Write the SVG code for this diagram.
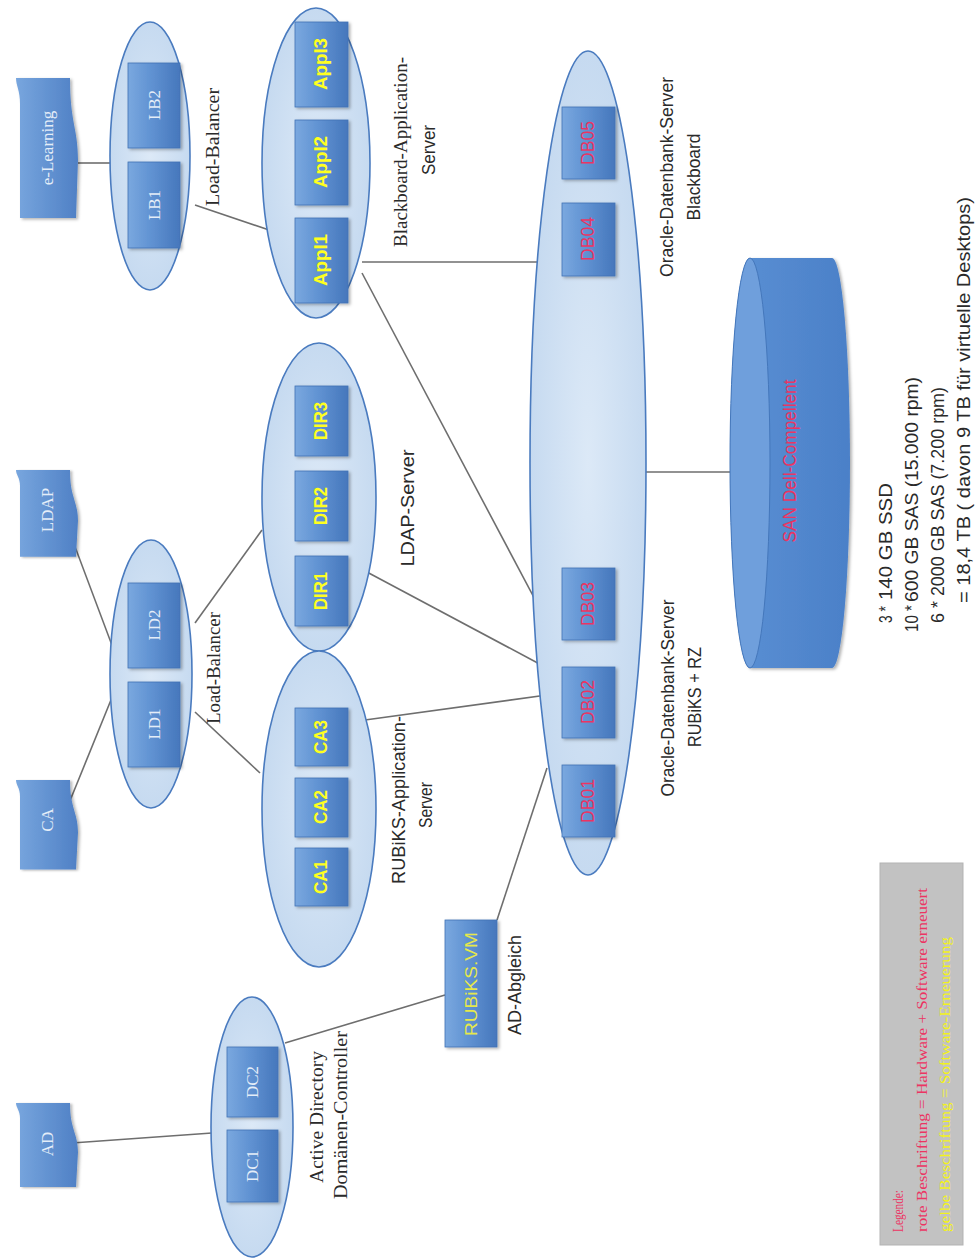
<svg xmlns="http://www.w3.org/2000/svg" width="978" height="1260" viewBox="0 0 978 1260">
<style>
.ell{fill:url(#gEll);stroke:#4a7bbf;stroke-width:1.6}
.box{fill:url(#gBox);stroke:#4172b5;stroke-width:0.8;filter:url(#sh)}
.doc{fill:url(#gDoc);filter:url(#sh)}
.con line{stroke:#6e6e6e;stroke-width:1.6}
.t{dominant-baseline:central;text-anchor:middle}
.ts{dominant-baseline:central;text-anchor:start}
.serif{font-family:"Liberation Serif","DejaVu Serif",serif;font-size:18px;fill:#2a2a2a}
.sans{font-family:"Liberation Sans","DejaVu Sans",sans-serif;font-size:19px;fill:#2a2a2a}
.bw{font-family:"Liberation Serif","DejaVu Serif",serif;font-size:17px;fill:#e4edf8}
.by{font-family:"Liberation Sans","DejaVu Sans",sans-serif;font-size:18px;font-weight:bold;fill:#ffff1e}
.br{font-family:"Liberation Sans","DejaVu Sans",sans-serif;font-size:18px;fill:#ec3462}
.leg{font-family:"Liberation Serif","DejaVu Serif",serif;font-size:14px}
</style>
<defs>
<linearGradient id="gBox" x1="0" y1="0" x2="1" y2="0">
<stop offset="0" stop-color="#7aa8df"/><stop offset="0.45" stop-color="#6092d2"/><stop offset="1" stop-color="#4677bc"/>
</linearGradient>
<radialGradient id="gEll" cx="0.5" cy="0.5" r="0.5">
<stop offset="0" stop-color="#dce9f7"/><stop offset="1" stop-color="#c6daf0"/>
</radialGradient>
<linearGradient id="gDoc" x1="0" y1="0" x2="1" y2="0">
<stop offset="0" stop-color="#78a6de"/><stop offset="1" stop-color="#4f80c5"/>
</linearGradient>
<linearGradient id="gCyl" x1="0" y1="0" x2="1" y2="0">
<stop offset="0" stop-color="#5a90d4"/><stop offset="1" stop-color="#4b80c8"/>
</linearGradient>
<filter id="sh" x="-20%" y="-20%" width="140%" height="140%">
<feDropShadow dx="2" dy="1.5" stdDeviation="1.5" flood-color="#000" flood-opacity="0.3"/>
</filter>
<path id="docp" d="M16,0 L70,0 C70,45 78,50 78,82 L76,140 L20,140 L20,26 C20,12 16,8 16,0 Z"/>
</defs>
<rect width="978" height="1260" fill="#ffffff"/>

<g id="connectors" class="con">
<line x1="78" y1="163" x2="110" y2="163"/>
<line x1="195" y1="205" x2="278" y2="233"/>
<line x1="362" y1="262" x2="548" y2="262"/>
<line x1="362" y1="273" x2="548" y2="624"/>
<line x1="65" y1="520" x2="113" y2="648"/>
<line x1="65" y1="813" x2="113" y2="695"/>
<line x1="195" y1="623" x2="262" y2="530"/>
<line x1="195" y1="712" x2="260" y2="773"/>
<line x1="365" y1="571" x2="547" y2="668"/>
<line x1="365" y1="720" x2="547" y2="695"/>
<line x1="72" y1="1143" x2="212" y2="1133"/>
<line x1="285" y1="1043" x2="445" y2="995"/>
<line x1="497" y1="920" x2="547" y2="768"/>
<line x1="628" y1="472" x2="748" y2="472"/>
</g>

<g id="doc-elearning">
<use href="#docp" class="doc" transform="translate(0,78)"/>
<text class="t bw" transform="translate(47,148) rotate(-90)">e-Learning</text>
</g>
<g id="doc-ldap">
<use href="#docp" class="doc" transform="translate(0,470) scale(1,0.62)"/>
<text class="t bw" transform="translate(47,510) rotate(-90)">LDAP</text>
</g>
<g id="doc-ca">
<use href="#docp" class="doc" transform="translate(0,780) scale(1,0.64)"/>
<text class="t bw" transform="translate(47,820) rotate(-90)">CA</text>
</g>
<g id="doc-ad">
<use href="#docp" class="doc" transform="translate(0,1103) scale(1,0.6)"/>
<text class="t bw" transform="translate(47,1144) rotate(-90)">AD</text>
</g>

<g id="lb-elearning">
<ellipse class="ell" cx="150" cy="156" rx="40" ry="134"/>
<rect class="box" x="128" y="63" width="52" height="85"/>
<rect class="box" x="128" y="162" width="52" height="86"/>
<text class="t bw" transform="translate(154,105) rotate(-90)">LB2</text>
<text class="t bw" transform="translate(154,205) rotate(-90)">LB1</text>
<text class="t serif" transform="translate(213,147) rotate(-90)" textLength="118" lengthAdjust="spacingAndGlyphs">Load-Balancer</text>
</g>

<g id="blackboard-app">
<ellipse class="ell" cx="316" cy="163" rx="54" ry="155"/>
<rect class="box" x="295" y="22" width="53" height="85"/>
<rect class="box" x="295" y="120" width="53" height="85"/>
<rect class="box" x="295" y="218" width="53" height="85"/>
<text class="t by" transform="translate(321,64) rotate(-90)" textLength="52" lengthAdjust="spacingAndGlyphs">Appl3</text>
<text class="t by" transform="translate(321,162) rotate(-90)" textLength="52" lengthAdjust="spacingAndGlyphs">Appl2</text>
<text class="t by" transform="translate(321,260) rotate(-90)" textLength="52" lengthAdjust="spacingAndGlyphs">Appl1</text>
<text class="t serif" transform="translate(401,152) rotate(-90)" textLength="190" lengthAdjust="spacingAndGlyphs">Blackboard-Application-</text>
<text class="t sans" transform="translate(428,150) rotate(-90)" textLength="50" lengthAdjust="spacingAndGlyphs">Server</text>
</g>

<g id="lb-ldap">
<ellipse class="ell" cx="151" cy="674" rx="41" ry="134"/>
<rect class="box" x="128" y="583" width="52" height="85"/>
<rect class="box" x="128" y="682" width="52" height="85"/>
<text class="t bw" transform="translate(154,625) rotate(-90)">LD2</text>
<text class="t bw" transform="translate(154,724) rotate(-90)">LD1</text>
<text class="t serif" transform="translate(214,668) rotate(-90)" textLength="112" lengthAdjust="spacingAndGlyphs">Load-Balancer</text>
</g>

<g id="ldap-server">
<ellipse class="ell" cx="319" cy="497" rx="57" ry="154"/>
<rect class="box" x="295" y="386" width="53" height="70"/>
<rect class="box" x="295" y="471" width="53" height="70"/>
<rect class="box" x="295" y="556" width="53" height="70"/>
<text class="t by" transform="translate(321,421) rotate(-90)" textLength="38" lengthAdjust="spacingAndGlyphs">DIR3</text>
<text class="t by" transform="translate(321,506) rotate(-90)" textLength="38" lengthAdjust="spacingAndGlyphs">DIR2</text>
<text class="t by" transform="translate(321,591) rotate(-90)" textLength="38" lengthAdjust="spacingAndGlyphs">DIR1</text>
<text class="t sans" transform="translate(407,508) rotate(-90)" textLength="117" lengthAdjust="spacingAndGlyphs">LDAP-Server</text>
</g>

<g id="rubiks-app">
<ellipse class="ell" cx="319" cy="809" rx="57" ry="158"/>
<rect class="box" x="295" y="708" width="53" height="58"/>
<rect class="box" x="295" y="778" width="53" height="59"/>
<rect class="box" x="295" y="848" width="53" height="58"/>
<text class="t by" transform="translate(321,737) rotate(-90)" textLength="34" lengthAdjust="spacingAndGlyphs">CA3</text>
<text class="t by" transform="translate(321,807) rotate(-90)" textLength="34" lengthAdjust="spacingAndGlyphs">CA2</text>
<text class="t by" transform="translate(321,877) rotate(-90)" textLength="34" lengthAdjust="spacingAndGlyphs">CA1</text>
<text class="t sans" transform="translate(398,800) rotate(-90)" textLength="168" lengthAdjust="spacingAndGlyphs">RUBiKS-Application-</text>
<text class="t sans" transform="translate(425,805) rotate(-90)" textLength="46" lengthAdjust="spacingAndGlyphs">Server</text>
</g>

<g id="ad-dc">
<ellipse class="ell" cx="252" cy="1127" rx="41" ry="130"/>
<rect class="box" x="227" y="1047" width="51" height="70"/>
<rect class="box" x="227" y="1130" width="51" height="72"/>
<text class="t bw" transform="translate(252,1082) rotate(-90)">DC2</text>
<text class="t bw" transform="translate(252,1166) rotate(-90)">DC1</text>
<text class="t serif" transform="translate(317,1117) rotate(-90)" textLength="132" lengthAdjust="spacingAndGlyphs">Active Directory</text>
<text class="t serif" transform="translate(341,1115) rotate(-90)" textLength="168" lengthAdjust="spacingAndGlyphs">Domänen-Controller</text>
</g>

<g id="rubiks-vm">
<rect class="box" x="445" y="920" width="52" height="127"/>
<text class="t" transform="translate(471,984) rotate(-90)" style="font-family:'Liberation Sans',sans-serif;font-size:17px;fill:#e6e84a" textLength="104" lengthAdjust="spacingAndGlyphs">RUBiKS.VM</text>
<text class="t sans" transform="translate(514,985) rotate(-90)" textLength="100" lengthAdjust="spacingAndGlyphs">AD-Abgleich</text>
</g>

<g id="oracle-db">
<ellipse class="ell" cx="588" cy="463" rx="58" ry="412"/>
<rect class="box" x="562" y="107" width="53" height="72"/>
<rect class="box" x="562" y="203" width="53" height="73"/>
<rect class="box" x="562" y="568" width="53" height="72"/>
<rect class="box" x="562" y="667" width="53" height="71"/>
<rect class="box" x="562" y="765" width="53" height="72"/>
<text class="t br" transform="translate(588,143) rotate(-90)" textLength="44" lengthAdjust="spacingAndGlyphs">DB05</text>
<text class="t br" transform="translate(588,239) rotate(-90)" textLength="44" lengthAdjust="spacingAndGlyphs">DB04</text>
<text class="t br" transform="translate(588,604) rotate(-90)" textLength="44" lengthAdjust="spacingAndGlyphs">DB03</text>
<text class="t br" transform="translate(588,702) rotate(-90)" textLength="44" lengthAdjust="spacingAndGlyphs">DB02</text>
<text class="t br" transform="translate(588,801) rotate(-90)" textLength="44" lengthAdjust="spacingAndGlyphs">DB01</text>
<text class="t sans" transform="translate(666,177) rotate(-90)" textLength="200" lengthAdjust="spacingAndGlyphs">Oracle-Datenbank-Server</text>
<text class="t sans" transform="translate(693,177) rotate(-90)" textLength="87" lengthAdjust="spacingAndGlyphs">Blackboard</text>
<text class="t sans" transform="translate(667,698) rotate(-90)" textLength="197" lengthAdjust="spacingAndGlyphs">Oracle-Datenbank-Server</text>
<text class="t sans" transform="translate(694,697) rotate(-90)" textLength="100" lengthAdjust="spacingAndGlyphs">RUBiKS + RZ</text>
</g>

<g id="san">
<path d="M750,258 L832,258 A18,205 0 0 1 832,668 L750,668 A20,205 0 0 1 750,258 Z" fill="url(#gCyl)" filter="url(#sh)"/>
<ellipse cx="750" cy="463" rx="20" ry="205" fill="#6f9fdc" stroke="#4477bb" stroke-width="1"/>
<text class="t" transform="translate(790,461) rotate(-90)" style="font-family:'Liberation Sans',sans-serif;font-size:18px;fill:#ec3462" textLength="163" lengthAdjust="spacingAndGlyphs">SAN Dell-Compellent</text>
</g>

<g id="storage-text">
<text class="ts sans" transform="translate(885,623) rotate(-90)" textLength="17" lengthAdjust="spacingAndGlyphs">3 *</text>
<text class="ts sans" transform="translate(885,600) rotate(-90)" textLength="117" lengthAdjust="spacingAndGlyphs">140 GB SSD</text>
<text class="ts sans" transform="translate(911,632) rotate(-90)" textLength="27" lengthAdjust="spacingAndGlyphs">10 *</text>
<text class="ts sans" transform="translate(911,602) rotate(-90)" textLength="225" lengthAdjust="spacingAndGlyphs">600 GB SAS (15.000 rpm)</text>
<text class="ts sans" transform="translate(937,623) rotate(-90)" textLength="236" lengthAdjust="spacingAndGlyphs">6 * 2000 GB SAS (7.200 rpm)</text>
<text class="ts sans" transform="translate(963,603) rotate(-90)" textLength="406" lengthAdjust="spacingAndGlyphs">= 18,4 TB  ( davon 9 TB für virtuelle Desktops)</text>
</g>

<g id="legend">
<rect x="880" y="863" width="83" height="382" fill="#c2c2c2" stroke="#b3b3b3" stroke-width="1"/>
<text class="ts leg" transform="translate(898,1232) rotate(-90)" fill="#ec3462" textLength="42" lengthAdjust="spacingAndGlyphs">Legende:</text>
<text class="ts leg" transform="translate(922,1232) rotate(-90)" fill="#ec3462" textLength="344" lengthAdjust="spacingAndGlyphs">rote Beschriftung = Hardware + Software erneuert</text>
<text class="ts leg" transform="translate(945,1232) rotate(-90)" fill="#f2f21a" textLength="295" lengthAdjust="spacingAndGlyphs">gelbe Beschriftung = Software-Erneuerung</text>
</g>
</svg>
